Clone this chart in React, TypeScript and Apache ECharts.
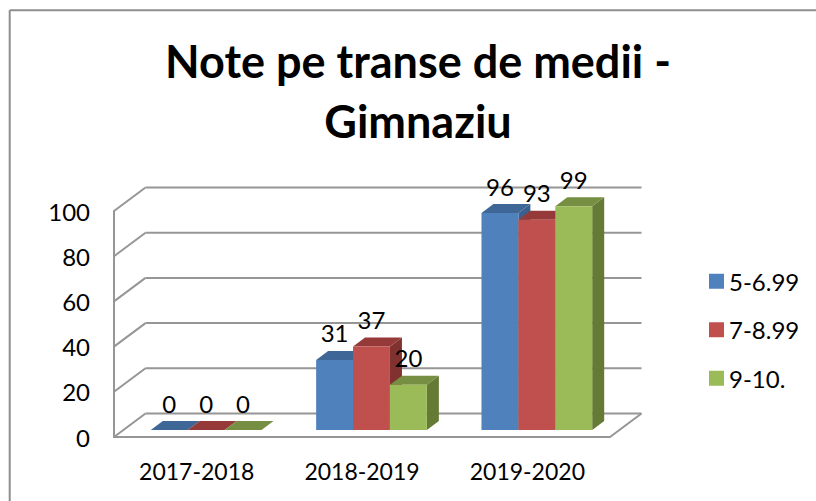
import React, { useEffect, useRef } from "react";
import * as echarts from "echarts";

const categories = ["2017-2018", "2018-2019", "2019-2020"];
const seriesNames = ["5-6.99", "7-8.99", "9-10."];
const low = [0, 31, 96];
const mid = [0, 37, 93];
const high = [0, 20, 99];
const valueTicks = [0, 20, 40, 60, 80, 100];
const frontColors = ["#4F81BD", "#C0504D", "#9BBB59"];
const topColors = ["#3E6696", "#953A38", "#778F42"];
const sideColors = ["#3A6090", "#7F3230", "#657A35"];
const titleText = "Note pe transe de medii -\nGimnaziu";

const FONT = "Lato, Carlito, Calibri, sans-serif";
const GRAY = "#969696";
const WALL_DX = 31.5;
const WALL_DY = -23.5;
const BAR_DX = 12;
const BAR_DY = -9;
const BASE_DX = 9.5;
const BASE_DY = -7;
const BAR_BAND = 0.2232;

function wallItem(params: any, api: any) {
  const cs = params.coordSys;
  const y = api.coord([0, api.value(0)])[1];
  const left = cs.x;
  const right = cs.x + cs.width;
  const line = (x1: number, y1: number, x2: number, y2: number) => ({
    type: "line",
    shape: { x1, y1, x2, y2 },
    style: { stroke: GRAY, lineWidth: 2, fill: "none" },
  });
  const children: any[] = [
    line(left, y, left + WALL_DX, y + WALL_DY),
    line(left + WALL_DX, y + WALL_DY, right + WALL_DX, y + WALL_DY),
  ];
  if (api.value(0) === 0) children.push(line(right, y, right + WALL_DX, y + WALL_DY));
  return { type: "group", children };
}

function barRenderer(k: number) {
  return (_params: any, api: any) => {
    const idx = api.value(0);
    const val = api.value(1);
    const band = api.size([1, 0])[0];
    const w = band * BAR_BAND;
    const c = api.coord([idx, val]);
    const b = api.coord([idx, 0]);
    const x0 = c[0] + BASE_DX + (k - 1.5) * w;
    const x1 = x0 + w;
    const yt = c[1] + BASE_DY;
    const yb = b[1] + BASE_DY;
    const poly = (points: number[][], fill: string) => ({
      type: "polygon",
      shape: { points },
      style: { fill, stroke: "none" },
    });
    return {
      type: "group",
      children: [
        poly([[x1, yt], [x1 + BAR_DX, yt + BAR_DY], [x1 + BAR_DX, yb + BAR_DY], [x1, yb]], sideColors[k]),
        poly([[x0, yt], [x1, yt], [x1 + BAR_DX, yt + BAR_DY], [x0 + BAR_DX, yt + BAR_DY]], topColors[k]),
        poly([[x0, yt], [x1, yt], [x1, yb], [x0, yb]], frontColors[k]),
        {
          type: "text",
          z2: 100,
          style: {
            text: String(val),
            x: (x0 + x1) / 2,
            y: yt - 27,
            align: "center",
            verticalAlign: "middle",
            fontFamily: FONT,
            fontSize: 24,
            fill: "#000",
          },
        },
      ],
    };
  };
}

export default function App() {
  const ref = useRef<HTMLDivElement>(null);
  useEffect(() => {
    const chart = echarts.init(ref.current!, undefined, { renderer: "svg" });
    const values = [low, mid, high];
    chart.setOption({
      animation: false,
      backgroundColor: "#fff",
      title: {
        text: titleText,
        left: 413,
        top: 26,
        textAlign: "center",
        textStyle: { fontFamily: FONT, fontWeight: "bold", fontSize: 45, lineHeight: 60, color: "#000" },
      },
      legend: {
        orient: "vertical",
        left: 704,
        top: 264,
        data: seriesNames,
        icon: "rect",
        itemWidth: 15,
        itemHeight: 15,
        itemGap: 24,
        selectedMode: false,
        textStyle: { fontFamily: FONT, fontSize: 24, color: "#000", lineHeight: 24.5 },
      },
      grid: { left: 114, top: 211, width: 496, height: 226, containLabel: false },
      xAxis: {
        type: "category",
        data: categories,
        axisLine: { show: true, lineStyle: { color: GRAY, width: 2 } },
        axisTick: { show: false },
        axisLabel: { fontFamily: FONT, fontSize: 23, color: "#000", margin: 22 },
      },
      yAxis: {
        type: "value",
        min: 0,
        max: 100,
        interval: 20,
        axisLine: { show: true, lineStyle: { color: GRAY, width: 2 } },
        axisTick: { show: false },
        splitLine: { show: false },
        axisLabel: { fontFamily: FONT, fontSize: 24, color: "#000", margin: 24 },
      },
      graphic: [
        { type: "line", shape: { x1: 9.7, y1: 10.3, x2: 816, y2: 10.3 }, style: { stroke: "#8E8E8E", lineWidth: 2 } },
        { type: "line", shape: { x1: 9.7, y1: 10.3, x2: 9.7, y2: 501 }, style: { stroke: "#8E8E8E", lineWidth: 2 } },
      ],
      series: [
        {
          type: "custom",
          name: "walls",
          silent: true,
          z: 1,
          data: valueTicks.map((t) => [t]),
          encode: { y: 0 },
          renderItem: wallItem,
        },
        ...seriesNames.map((name, k) => ({
          type: "custom",
          name,
          z: 2 + k,
          itemStyle: { color: frontColors[k] },
          data: values[k].map((v, i) => [i, v]),
          encode: { x: 0, y: 1 },
          renderItem: barRenderer(k),
        })),
      ],
    });
    return () => chart.dispose();
  }, []);
  return <div ref={ref} style={{ position: "absolute", left: 0, top: 0, width: 816, height: 501 }} />;
}
